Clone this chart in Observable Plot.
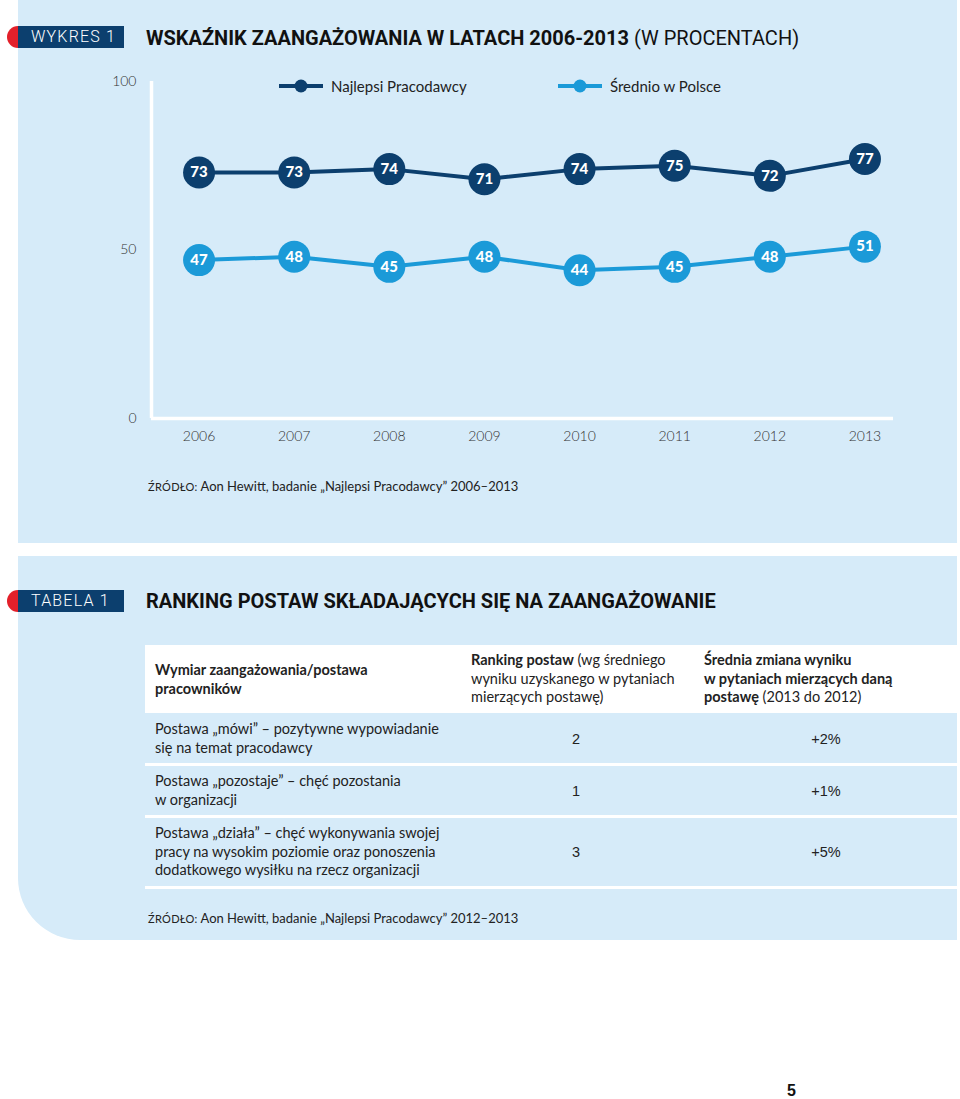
<!DOCTYPE html>
<html>
<head>
<meta charset="utf-8">
<script src="https://cdn.jsdelivr.net/npm/d3@7"></script>
<script src="https://cdn.jsdelivr.net/npm/@observablehq/plot@0.6"></script>
<style>
  html, body { margin: 0; padding: 0; background: #ffffff; }
  body { width: 960px; height: 1099px; position: relative; overflow: hidden; font-family: Lato, "Open Sans", sans-serif; color: #222; }
  .abs { position: absolute; }
  .panel { background: #d6ebf9; }
  .tag { background: #0c3f6e; color: #fff; font-family: Roboto, sans-serif; font-weight: 300; font-size: 16px; letter-spacing: 1.2px; line-height: 22px; height: 22px; padding-left: 13px; box-sizing: border-box; }
  .dotred { background: #e3202a; border-radius: 11px 0 0 11px; width: 11px; height: 22px; }
  .title { font-family: Roboto, sans-serif; font-weight: 700; font-size: 20px; color: #111; white-space: nowrap; line-height: 24px; }
  .title span { font-weight: 400; }
  .src { font-family: Lato, sans-serif; font-size: 13px; color: #222; white-space: nowrap; }
  .src .sc { font-size: 11px; letter-spacing: 0.3px; }
  .legend { font-family: Lato, sans-serif; font-size: 15px; color: #222; white-space: nowrap; display: flex; align-items: center; }
  .cell { font-family: Lato, sans-serif; font-size: 14.5px; line-height: 18.5px; color: #222; white-space: nowrap; }
  .num { font-family: "Liberation Sans", Arial, sans-serif; font-size: 14.5px; color: #222; transform: translate(-50%, -50%); white-space: nowrap; }
  .b { font-weight: 700; }
  #chart svg [aria-label$="tick label"] text { font-weight: 300; }
</style>
</head>
<body>
<script>
// ---------- data ----------
const years = [2006, 2007, 2008, 2009, 2010, 2011, 2012, 2013];
const seriesNames = ["Najlepsi Pracodawcy", "Średnio w Polsce"];
const najlepsi = [73, 73, 74, 71, 74, 75, 72, 77];
const srednio = [47, 48, 45, 48, 44, 45, 48, 51];
const yTicks = [0, 50, 100];
const seriesColors = ["#0c3f6e", "#1b9ad8"];

const tableHeaders = [
  [["b", "Wymiar zaangażowania/postawa"], ["b", "pracowników"]],
  [["b", "Ranking postaw", " (wg średniego"], ["", "wyniku uzyskanego w pytaniach"], ["", "mierzących postawę)"]],
  [["b", "Średnia zmiana wyniku"], ["b", "w pytaniach mierzących daną"], ["b", "postawę", " (2013 do 2012)"]]
];
const tableRows = [
  ["Postawa „mówi” – pozytywne wypowiadanie", "się na temat pracodawcy"],
  ["Postawa „pozostaje” – chęć pozostania", "w organizacji"],
  ["Postawa „działa” – chęć wykonywania swojej", "pracy na wysokim poziomie oraz ponoszenia", "dodatkowego wysiłku na rzecz organizacji"]
];
const rankings = [2, 1, 3];
const changes = ["+2%", "+1%", "+5%"];

const data = years.flatMap((year, i) => [
  {year, value: najlepsi[i], series: seriesNames[0]},
  {year, value: srednio[i], series: seriesNames[1]}
]);

// ---------- layout ----------
function el(tag, cls, style, html) {
  const e = document.createElement(tag);
  if (cls) e.className = cls;
  Object.assign(e.style, style || {});
  if (html != null) e.innerHTML = html;
  document.body.appendChild(e);
  return e;
}

// panels
el("div", "abs panel", {left: "18px", top: "0px", width: "939px", height: "543px"});
el("div", "abs panel", {left: "18px", top: "556px", width: "939px", height: "384px", borderBottomLeftRadius: "62px"});

// tags + titles
el("div", "abs dotred", {left: "7px", top: "26px"});
el("div", "abs tag", {left: "18px", top: "26px", width: "106px"}, "WYKRES 1");
el("div", "abs title", {left: "146px", top: "26px"}, "WSKAŹNIK ZAANGAŻOWANIA W LATACH 2006-2013 <span>(W PROCENTACH)</span>");

el("div", "abs dotred", {left: "7px", top: "590px"});
el("div", "abs tag", {left: "18px", top: "590px", width: "106px"}, "TABELA 1");
el("div", "abs title", {left: "146px", top: "589px"}, "RANKING POSTAW SKŁADAJĄCYCH SIĘ NA ZAANGAŻOWANIE");

// legend
const legendX = [279, 558];
seriesNames.forEach((name, i) => {
  const lg = el("div", "abs legend", {left: legendX[i] + "px", top: "76px", height: "20px"});
  lg.innerHTML = `<svg width="44" height="14" style="margin-right:8px"><line x1="0" x2="44" y1="7" y2="7" stroke="${seriesColors[i]}" stroke-width="4"/><circle cx="22" cy="7" r="6.5" fill="${seriesColors[i]}"/></svg><span>${name}</span>`;
});

// chart
const chart = Plot.plot({
  width: 960,
  height: 400,
  marginLeft: 151,
  marginRight: 67,
  marginTop: 21,
  marginBottom: 42,
  style: {background: "transparent", fontFamily: "Lato, sans-serif", fontSize: "14px", color: "#333"},
  x: {domain: [2005.5, 2013.3], ticks: years, tickFormat: d => String(d), tickSize: 0, tickPadding: 13, label: null},
  y: {domain: [0, 100], ticks: yTicks, tickSize: 0, tickPadding: 15, label: null},
  color: {domain: seriesNames, range: seriesColors},
  marks: [
    Plot.ruleY([0], {stroke: "white", strokeWidth: 3.5}),
    Plot.ruleX([2005.5], {stroke: "white", strokeWidth: 3.5}),
    Plot.line(data, {x: "year", y: "value", z: "series", stroke: "series", strokeWidth: 4}),
    Plot.dot(data, {x: "year", y: "value", fill: "series", r: 16}),
    Plot.text(data, {x: "year", y: "value", text: d => String(d.value), fill: "white", fontWeight: "900", fontSize: 15, fontFamily: "Lato, sans-serif"})
  ]
});
const chartWrap = el("div", "abs", {left: "0px", top: "60px"});
chartWrap.id = "chart";
chartWrap.appendChild(chart);

// source 1
el("div", "abs src", {left: "148px", top: "478px"}, '<span class="sc">ŹRÓDŁO:</span> Aon Hewitt, badanie „Najlepsi Pracodawcy” 2006–2013');

// table
el("div", "abs", {left: "145px", top: "645px", width: "812px", height: "68px", background: "#ffffff"});
const sepY = [763, 815, 886];
sepY.forEach(y => el("div", "abs", {left: "145px", top: y + "px", width: "812px", height: "3px", background: "#ffffff"}));

const colX = [155, 471, 704];
const headerTop = [661, 651, 651];
tableHeaders.forEach((lines, c) => {
  const html = lines.map(l => l[0] === "b" ? `<span class="b">${l[1]}</span>${l[2] || ""}` : l[1]).join("<br>");
  el("div", "abs cell", {left: colX[c] + "px", top: headerTop[c] + "px"}, html);
});

const rowTop = [720, 772, 824];
const rowMid = [739, 791, 852];
tableRows.forEach((lines, r) => {
  el("div", "abs cell", {left: "155px", top: rowTop[r] + "px"}, lines.join("<br>"));
  el("div", "abs num", {left: "576px", top: rowMid[r] + "px"}, String(rankings[r]));
  el("div", "abs num", {left: "826px", top: rowMid[r] + "px"}, changes[r]);
});

// source 2
el("div", "abs src", {left: "148px", top: "910px"}, '<span class="sc">ŹRÓDŁO:</span> Aon Hewitt, badanie „Najlepsi Pracodawcy” 2012–2013');

// page number
el("div", "abs", {left: "787px", top: "1082px", fontFamily: "'Liberation Sans Narrow', 'Liberation Sans', sans-serif", fontWeight: "700", fontSize: "16px", color: "#111"}, "5");
</script>
</body>
</html>
